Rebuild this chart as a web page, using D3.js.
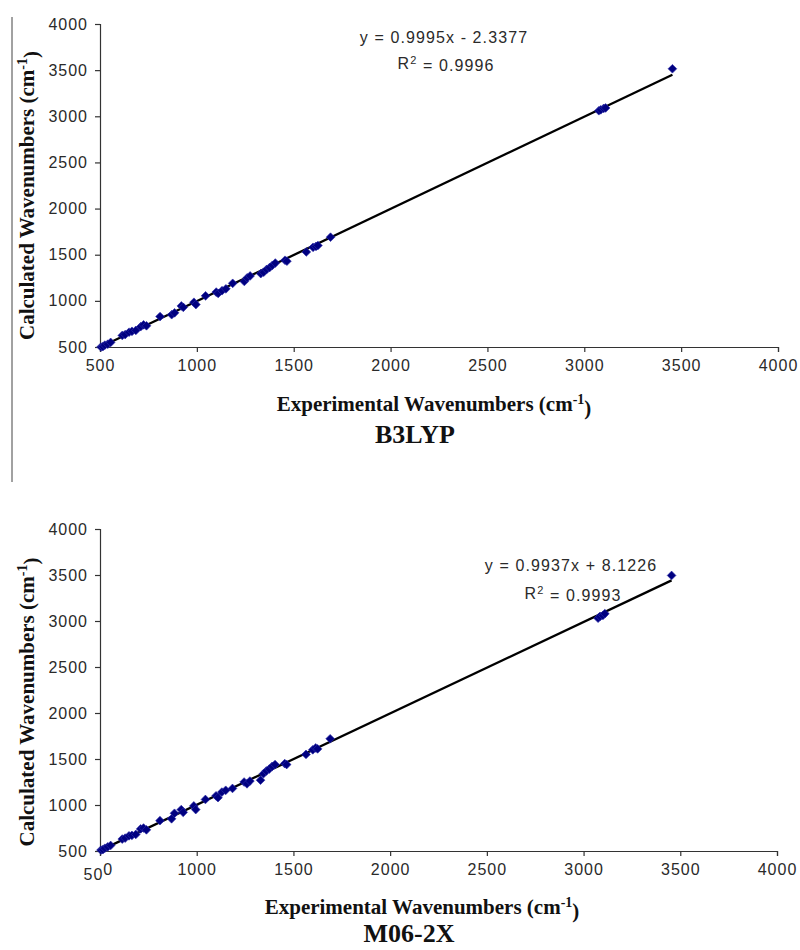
<!DOCTYPE html>
<html>
<head>
<meta charset="utf-8">
<script src="https://cdn.jsdelivr.net/npm/d3@7"></script>
<style>
  body { margin: 0; background: #fff; }
  svg { display: block; }
  .tick text { font-family: "Liberation Sans", Arial, sans-serif; font-size: 16px; fill: #2a2a2a; letter-spacing: 1px; }
  .eq { font-family: "Liberation Sans", Arial, sans-serif; font-size: 16px; fill: #2a2a2a; letter-spacing: 1.1px; }
  .title { font-family: "Liberation Serif", "Times New Roman", serif; font-weight: bold; fill: #111; }
</style>
</head>
<body>
<script>
// Experimental wavenumbers (cm-1), shared by both panels
const expWavenumbers = [505, 515, 525, 540, 555, 615, 630, 650, 665, 685, 710, 725, 740, 810, 870, 885, 920, 930, 985, 995,
  1045, 1100, 1110, 1130, 1150, 1185, 1245, 1260, 1275, 1330, 1345, 1360, 1375, 1390, 1405, 1455, 1465,
  1565, 1600, 1615, 1625, 1690, 3075, 3085, 3100, 3110, 3455];
// Calculated wavenumbers, B3LYP
const b3lypCalc = [500, 505, 520, 530, 550, 625, 635, 660, 670, 680, 720, 740, 730, 830, 850, 870, 945, 930, 985, 960,
  1055, 1095, 1080, 1110, 1130, 1190, 1210, 1250, 1270, 1295, 1310, 1340, 1360, 1385, 1410, 1440, 1430,
  1530, 1580, 1590, 1600, 1690, 3060, 3070, 3085, 3090, 3515];
// Calculated wavenumbers, M06-2X
const m062xCalc = [510, 515, 530, 545, 560, 630, 640, 665, 670, 680, 740, 750, 730, 830, 850, 910, 950, 920, 990, 950,
  1060, 1100, 1080, 1140, 1160, 1180, 1250, 1230, 1260, 1270, 1340, 1370, 1390, 1420, 1440, 1450, 1440,
  1550, 1600, 1620, 1610, 1720, 3030, 3050, 3060, 3080, 3495];
// Linear fits shown on each panel
const panelNames = ["B3LYP", "M06-2X"];
const fitSlopes = [0.9995, 0.9937];
const fitIntercepts = [-2.3377, 8.1226];
const fitEquations = ["y = 0.9995x - 2.3377", "y = 0.9937x + 8.1226"];
const fitR2 = ["0.9996", "0.9993"];
// Axis ticks
const xTicks = [500, 1000, 1500, 2000, 2500, 3000, 3500, 4000];
const yTicks = [500, 1000, 1500, 2000, 2500, 3000, 3500, 4000];

const W = 800, H = 950;
const svg = d3.select("body").append("svg").attr("width", W).attr("height", H);

// left border line (from page)
svg.append("line").attr("x1", 12).attr("x2", 12).attr("y1", 17).attr("y2", 482)
  .attr("stroke", "#444").attr("stroke-width", 1);

const panels = [
  { left: 100, right: 778, top: 24, bottom: 347, calc: b3lypCalc,
    eqX: 444, eqY: 43, r2Y: 69, expY: 411, nameX: 415, nameY: 443, expX: 434, yTitleShift: 10 },
  { left: 100, right: 777, top: 529, bottom: 851, calc: m062xCalc,
    eqX: 571, eqY: 571, r2Y: 599, expY: 914, nameX: 409, nameY: 942, expX: 422, yTitleShift: 12 }
];

panels.forEach((p, i) => {
  const x = d3.scaleLinear().domain([500, 4000]).range([p.left, p.right]);
  const y = d3.scaleLinear().domain([500, 4000]).range([p.bottom, p.top]);
  const g = svg.append("g");

  const xa = g.append("g").attr("transform", `translate(0,${p.bottom})`)
    .call(d3.axisBottom(x).tickValues(xTicks).tickSize(5).tickPadding(8).tickFormat(d3.format("d")));
  const ya = g.append("g").attr("transform", `translate(${p.left},0)`)
    .call(d3.axisLeft(y).tickValues(yTicks).tickSize(5).tickPadding(7).tickFormat(d3.format("d")));
  [xa, ya].forEach(a => {
    a.select(".domain").attr("stroke", "#333").attr("stroke-width", 1.2);
    a.selectAll(".tick line").attr("stroke", "#333").attr("stroke-width", 1.2);
  });

  if (i === 1) {
    // the "500" label in the lower panel is printed with a shifted last digit
    const t = xa.selectAll(".tick").filter(d => d === 500).select("text");
    t.text(null).attr("text-anchor", "start").attr("x", -17);
    t.append("tspan").attr("dy", "1.0em").text("50");
    t.append("tspan").attr("dy", "-0.3em").text("0");
  }

  // trendline
  const fx = d3.extent(expWavenumbers);
  const f = v => fitSlopes[i] * v + fitIntercepts[i];
  g.append("line")
    .attr("x1", x(fx[0])).attr("y1", y(f(fx[0])))
    .attr("x2", x(fx[1])).attr("y2", y(f(fx[1])))
    .attr("stroke", "#000").attr("stroke-width", 2.3);

  // points
  const sym = d3.symbol().type(d3.symbolSquare).size(38);
  g.selectAll("path.pt").data(expWavenumbers.map((e, k) => [e, p.calc[k]]))
    .join("path").attr("class", "pt")
    .attr("d", sym)
    .attr("transform", d => `translate(${x(d[0])},${y(d[1])}) rotate(45)`)
    .attr("fill", "#000080").attr("stroke", "#2a2aa8").attr("stroke-width", 0.6);

  // equation
  g.append("text").attr("class", "eq").attr("x", p.eqX).attr("y", p.eqY)
    .attr("text-anchor", "middle").text(fitEquations[i]);
  const r = g.append("text").attr("class", "eq").attr("x", p.eqX + 2).attr("y", p.r2Y)
    .attr("text-anchor", "middle");
  r.append("tspan").text("R");
  r.append("tspan").attr("dy", "-0.45em").attr("font-size", "11px").text("2");
  r.append("tspan").attr("dy", "0.45em").text(" = " + fitR2[i]);

  // axis titles
  const yt = g.append("text").attr("class", "title").attr("font-size", "21px")
    .attr("text-anchor", "middle")
    .attr("transform", `translate(34,${(p.top + p.bottom) / 2 + p.yTitleShift}) rotate(-90)`);
  yt.append("tspan").text("Calculated Wavenumbers (cm");
  yt.append("tspan").attr("dy", "-0.5em").attr("font-size", "14px").text("-1");
  yt.append("tspan").attr("dy", "0.5em").text(")");

  const xt = g.append("text").attr("class", "title").attr("font-size", "21px")
    .attr("text-anchor", "middle").attr("x", p.expX).attr("y", p.expY);
  xt.append("tspan").text("Experimental Wavenumbers (cm");
  xt.append("tspan").attr("dy", "-0.5em").attr("font-size", "14px").text("-1");
  xt.append("tspan").attr("dy", "0.5em").text(")");

  g.append("text").attr("class", "title").attr("font-size", "26px")
    .attr("text-anchor", "middle").attr("x", p.nameX).attr("y", p.nameY).text(panelNames[i]);
});
</script>
</body>
</html>
